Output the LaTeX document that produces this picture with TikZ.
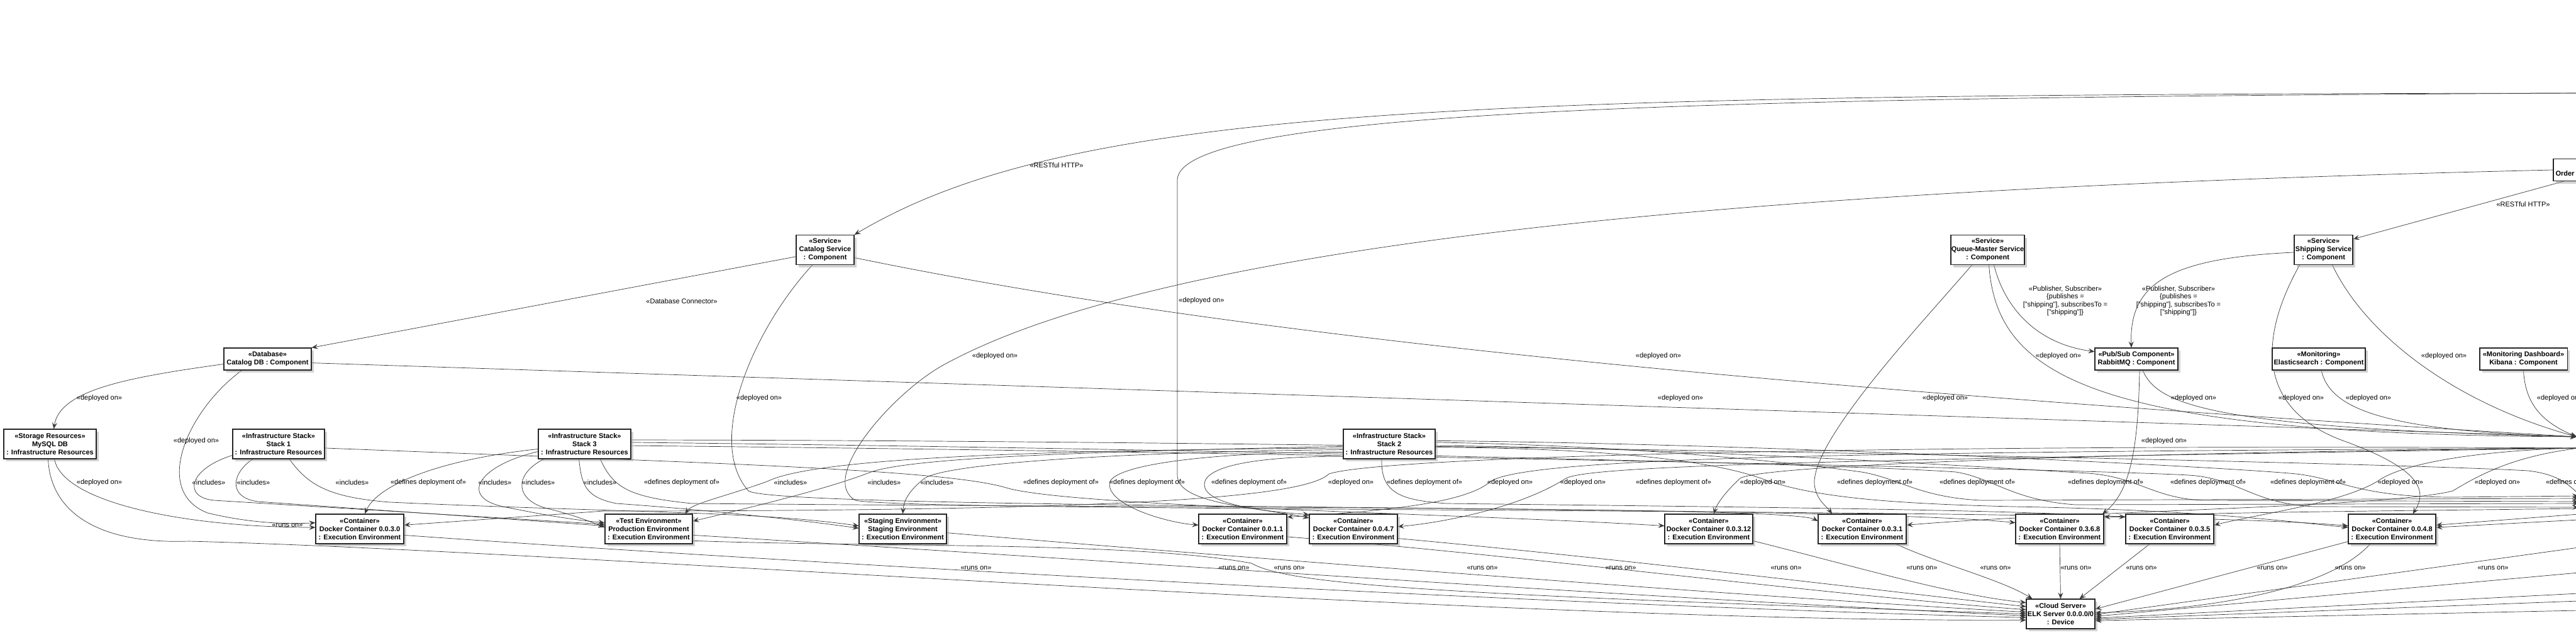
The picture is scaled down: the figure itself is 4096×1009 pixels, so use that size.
\documentclass[tikz,border=0pt]{standalone}
\usepackage{fontspec}
\setmainfont{Liberation Sans}
\usetikzlibrary{arrows.meta,shadows}
\pgfdeclarelayer{background}
\pgfdeclarelayer{edges}
\pgfsetlayers{background,edges,main}
\tikzset{
  box/.style={draw=black!85, line width=1.1pt, fill=white, align=center, inner sep=0pt,
    font=\fontsize{11}{13}\selectfont\bfseries,
    drop shadow={shadow xshift=4pt, shadow yshift=-4pt, fill=black!35}},
  boxtwo/.style={box, minimum height=35pt},
  boxthree/.style={box, minimum height=47pt},
  cont/.style={boxthree, minimum width=140pt},
  arr/.style={draw=black!78, line width=0.7pt, -{Stealth[length=10pt, width=8pt, inset=4pt]}},
  lbl/.style={font=\fontsize{11}{12.4}\selectfont, inner sep=0pt, align=center},
}
\begin{document}
\begin{tikzpicture}[x=1pt, y=-1pt]
\useasboundingbox (0,0) rectangle (4096,1009);
\begin{pgfonlayer}{background}
\fill[white] (0,0) rectangle (4096,1009);
\end{pgfonlayer}

% ---------------- nodes ----------------
\node[boxthree, minimum width=92pt]  (CatSvc)  at (1312,397)   {«Service»\\Catalog Service\\: Component};
\node[boxthree, minimum width=117pt] (QMSvc)   at (3160.5,397) {«Service»\\Queue-Master Service\\: Component};
\node[boxthree, minimum width=93pt]  (ShipSvc) at (3694.5,397) {«Service»\\Shipping Service\\: Component};
\node[boxtwo, minimum width=151pt]   (Order)   at (4135.5,270) {«Service»\\Order Service : Component};

\node[boxtwo, minimum width=139pt] (CatDB)  at (425.5,570.5) {«Database»\\Catalog DB : Component};
\node[boxtwo, minimum width=132pt] (RMQ)    at (3397,570.5)  {«Pub/Sub Component»\\RabbitMQ : Component};
\node[boxtwo, minimum width=148pt] (ES)     at (3687,570.5)  {«Monitoring»\\Elasticsearch : Component};
\node[boxtwo, minimum width=139pt] (Kibana) at (4012.5,570.5) {«Monitoring Dashboard»\\Kibana : Component};

\node[boxthree, minimum width=147pt] (MySQL)  at (79.5,705.5)  {«Storage Resources»\\MySQL DB\\: Infrastructure Resources};
\node[boxthree, minimum width=146pt] (Stack1) at (443,705.5)   {«Infrastructure Stack»\\Stack 1\\: Infrastructure Resources};
\node[boxthree, minimum width=147pt] (Stack3) at (929.5,705.5) {«Infrastructure Stack»\\Stack 3\\: Infrastructure Resources};
\node[boxthree, minimum width=146pt] (Stack2) at (2209,705.5)  {«Infrastructure Stack»\\Stack 2\\: Infrastructure Resources};

\node[cont] (C030)    at (572,840.5)    {«Container»\\Docker Container 0.0.3.0\\: Execution Environment};
\node[cont, minimum width=139pt] (TestEnv) at (1031.5,840.5) {«Test Environment»\\Production Environment\\: Execution Environment};
\node[cont, minimum width=139pt] (Staging) at (1435.5,840.5) {«Staging Environment»\\Staging Environment\\: Execution Environment};
\node[cont] (C011)    at (1976,840.5)   {«Container»\\Docker Container 0.0.1.1\\: Execution Environment};
\node[cont] (C047)    at (2152,840.5)   {«Container»\\Docker Container 0.0.4.7\\: Execution Environment};
\node[cont] (C0312)   at (2717,840.5)   {«Container»\\Docker Container 0.0.3.12\\: Execution Environment};
\node[cont] (C031)    at (2961,840.5)   {«Container»\\Docker Container 0.0.3.1\\: Execution Environment};
\node[cont] (C0368)   at (3275,840.5)   {«Container»\\Docker Container 0.3.6.8\\: Execution Environment};
\node[cont] (C035)    at (3450,840.5)   {«Container»\\Docker Container 0.0.3.5\\: Execution Environment};
\node[cont, minimum width=139pt] (C048) at (3803.5,840.5) {«Container»\\Docker Container 0.0.4.8\\: Execution Environment};

\node[boxthree, minimum width=109pt] (Cloud) at (3276.5,975.5) {«Cloud Server»\\ELK Server 0.0.0.0/0\\: Device};

% off-page ends
\coordinate (offTop)  at (4100,148);
\coordinate (offRin)  at (4097,694);
\coordinate (offRout) at (4100,712);
\coordinate (offD1) at (4100,792);
\coordinate (offD2) at (4100,800);
\coordinate (offD3) at (4100,797);
\coordinate (offD4) at (4100,806);
\coordinate (offD5) at (4100,788);
\coordinate (offD6) at (4110,790);
\coordinate (offS1) at (4100,808);
\coordinate (offS2) at (4100,817);
\coordinate (offS3) at (4100,826);
\coordinate (offRun1) at (4100,870);
\coordinate (offRun2) at (4100,910);
\coordinate (offRun3) at (4100,943);
\coordinate (offRun4) at (4100,955);
\coordinate (offRun5) at (4100,970);

% ---------------- edges ----------------
\begin{pgfonlayer}{edges}
% top
\draw[arr] (offTop) .. controls (2300,150) and (1700,170) .. (CatSvc.north east);
\draw[arr] (offTop) .. controls (2700,155) and (1880,175) .. (1872,285) -- (1872,755) .. controls (1872,800) and (1990,805) .. (C047.166);
\draw[arr] (CatSvc.193) -- (CatDB.north east);
\draw[arr] (CatSvc.-15) .. controls (1800,500) and (2500,600) .. (offRin);
\draw[arr] (CatSvc.-130) .. controls (1200,520) and (1120,700) .. (1190,780) .. controls (1240,812) and (2900,800) .. (C0368.172);
\draw[arr] (Order.west) .. controls (3000,295) and (1900,360) .. (1500,580) .. controls (1420,624) and (1300,760) .. (1360,795) .. controls (1450,815) and (3400,805) .. (C048.176);
\draw[arr] ([xshift=17pt]Order.south west) -- (ShipSvc.20);
% queue master / shipping / rabbit
\draw[arr] ([xshift=10pt]QMSvc.south) .. controls (3185,480) and (3230,545) .. (RMQ.170);
\draw[arr] ([xshift=2pt]QMSvc.south) .. controls (3175,600) and (3330,690) .. (offRin);
\draw[arr] ([xshift=-25pt]QMSvc.south) .. controls (3050,520) and (2880,700) .. (2885,770) .. controls (2888,795) and (2905,805) .. ([xshift=-48pt]C031.north);
\draw[arr] ([yshift=-4pt]ShipSvc.west) .. controls (3450,410) and (3385,450) .. ([xshift=-8pt]RMQ.north);
\draw[arr] ([xshift=14pt]ShipSvc.south) .. controls (3760,530) and (3900,640) .. (offRin);
\draw[arr] ([xshift=-38pt]ShipSvc.south) .. controls (3590,540) and (3590,650) .. (3725,700) .. controls (3850,745) and (3860,780) .. ([xshift=33pt]C048.north);
\draw[arr] ([xshift=5pt]RMQ.south) .. controls (3400,700) and (3390,780) .. ([xshift=68pt]C0368.north);
\draw[arr] ([xshift=10pt]RMQ.south) .. controls (3430,640) and (3500,680) .. (offRin);
\draw[arr] ([xshift=4pt]ES.south) .. controls (3705,650) and (3790,685) .. (offRin);
\draw[arr] (Kibana.south) .. controls (4015,640) and (4040,670) .. (offRin);
% catalog db, mysql
\draw[arr] (CatDB.-5) -- (offRin);
\draw[arr] ([yshift=-8pt]CatDB.west) .. controls (200,600) and (95,620) .. ([xshift=6pt]MySQL.north);
\draw[arr] ([xshift=-41pt]CatDB.south) .. controls (300,650) and (240,780) .. (330,815) .. controls (400,832) and (460,833) .. (C030.172);
\draw[arr] ([xshift=7pt]MySQL.south) .. controls (100,800) and (300,838) .. (C030.178);
\draw[arr] ([xshift=-3pt]MySQL.south) .. controls (80,810) and (150,865) .. (300,860) .. controls (900,875) and (2400,990) .. (Cloud.190);
% stack 1
\draw[arr] ([yshift=-18pt]Stack1.west) .. controls (300,745) and (290,790) .. (340,795) -- (TestEnv.174);
\draw[arr] ([xshift=-41pt]Stack1.south) .. controls (370,750) and (360,790) .. (410,797) -- (TestEnv.176);
\draw[arr] ([xshift=17pt]Stack1.south) .. controls (490,770) and (520,790) .. (620,798) .. controls (1000,815) and (1200,812) .. (Staging.176);
\draw[arr] (Stack1.-5) .. controls (1100,735) and (1500,745) .. (1600,775) .. controls (1700,805) and (2300,815) .. (C0312.176);
% stack 3
\draw[arr] ([yshift=-8pt]Stack3.west) .. controls (700,730) and (600,770) .. ([xshift=8pt]C030.north);
\draw[arr] ([yshift=-12pt]Stack3.west) .. controls (760,740) and (730,790) .. (800,805) .. controls (850,815) and (900,825) .. (TestEnv.172);
\draw[arr] ([xshift=-65pt]Stack3.south) .. controls (815,755) and (820,795) .. (870,808) .. controls (900,815) and (930,825) .. (TestEnv.178);
\draw[arr] ([xshift=-9pt]Stack3.south) .. controls (925,770) and (930,790) .. (980,800) .. controls (1150,812) and (1300,830) .. (Staging.179);
\draw[arr] ([xshift=25pt]Stack3.south) .. controls (975,775) and (1000,790) .. (1100,800) .. controls (2000,808) and (2850,805) .. (C031.170);
\draw[arr] (Stack3.2) .. controls (1800,712) and (2900,735) .. (3110,750) .. controls (3170,760) and (3200,795) .. (3300,802) -- (offD2);
\draw[arr] (Stack3.-2) .. controls (2000,718) and (3300,745) .. (3480,755) .. controls (3560,760) and (3580,800) .. (3680,805) -- (offD4);
\draw[arr] (Stack3.5) .. controls (2200,700) and (3800,735) .. (4020,748) .. controls (4080,755) and (4090,780) .. (offD6);
% stack 2
\draw[arr] (Stack2.185) .. controls (1700,715) and (1300,725) .. (1220,765) .. controls (1150,790) and (1100,800) .. ([xshift=58pt]TestEnv.north);
\draw[arr] (Stack2.183) .. controls (1700,718) and (1450,728) .. (1385,750) .. controls (1320,775) and (1220,800) .. (TestEnv.10);
\draw[arr] (Stack2.187) .. controls (1800,718) and (1510,735) .. (1470,760) .. controls (1445,780) and (1437,795) .. (Staging.north);
\draw[arr] (Stack2.190) .. controls (1950,718) and (1780,735) .. (1765,765) .. controls (1755,800) and (1850,830) .. (C011.175);
\draw[arr] (Stack2.195) .. controls (2000,725) and (1915,740) .. (1915,770) .. controls (1915,800) and (2000,812) .. (C047.162);
\draw[arr] ([xshift=-12pt]Stack2.south) .. controls (2195,785) and (2230,795) .. (2300,800) .. controls (2800,806) and (3200,810) .. (C035.165);
\draw[arr] (Stack2.-4) .. controls (2500,712) and (2700,725) .. (2800,760) .. controls (2880,790) and (3000,800) .. (3200,805) .. controls (3500,810) and (3650,830) .. (C048.178);
\draw[arr] (Stack2.2) .. controls (2600,708) and (2850,735) .. (2960,750) .. controls (3020,760) and (3050,790) .. (3150,795) -- (offD1);
\draw[arr] (Stack2.-2) .. controls (2700,712) and (3200,745) .. (3320,752) .. controls (3400,758) and (3420,790) .. (3500,795) -- (offD3);
\draw[arr] (Stack2.4) .. controls (2800,705) and (3500,740) .. (3640,752) .. controls (3720,758) and (3740,790) .. (3900,790) -- (offD5);
% deployed on (from the right)
\draw[arr] (offRout) .. controls (3000,705) and (2200,725) .. (2113,753) .. controls (2075,790) and (1800,812) .. (960,812) -- (C030.5);
\draw[arr] (offRout) .. controls (3000,718) and (2430,725) .. (2370,765) .. controls (2330,800) and (2200,812) .. (C011.15);
\draw[arr] (offRout) .. controls (3000,730) and (2530,738) .. (2490,760) .. controls (2420,805) and (2300,830) .. (C047.3);
\draw[arr] (offRout) .. controls (3300,720) and (2800,740) .. (2767,760) .. controls (2745,780) and (2730,800) .. ([xshift=8pt]C0312.north);
\draw[arr] (offRout) .. controls (3950,715) and (3820,735) .. (3780,765) .. controls (3720,800) and (3600,815) .. (C035.5);
\draw[arr] (offRout) .. controls (4000,725) and (3950,750) .. (3900,780) .. controls (3800,806) and (3300,812) .. (C031.5);
\draw[arr] (offS1) .. controls (3800,812) and (3500,814) .. (C0368.15);
\draw[arr] (offS2) -- (C048.5);
\draw[arr] (offS3) -- (C048.2);
% runs on
\draw[arr] (C030.-8) .. controls (1200,890) and (2400,960) .. (Cloud.186);
\draw[arr] (TestEnv.-8) .. controls (1600,880) and (2600,950) .. (Cloud.183);
\draw[arr] (TestEnv.-15) .. controls (1400,870) and (1800,860) .. (1990,895) .. controls (2050,930) and (2300,945) .. (Cloud.180);
\draw[arr] (Staging.-5) .. controls (1900,880) and (2800,950) .. (Cloud.177);
\draw[arr] (C011.-10) .. controls (2400,880) and (2900,945) .. (Cloud.173);
\draw[arr] (C047.-12) .. controls (2600,890) and (3000,940) .. (Cloud.168);
\draw[arr] (C0312.-15) .. controls (2950,900) and (3100,945) .. (Cloud.162);
\draw[arr] ([xshift=54pt]C031.south) .. controls (3080,895) and (3180,920) .. ([xshift=-45pt]Cloud.north);
\draw[arr] (C0368.south) -- (Cloud.north);
\draw[arr] ([xshift=-32pt]C035.south) -- ([xshift=30pt]Cloud.north);
\draw[arr] ([yshift=-20pt]C048.west) -- (Cloud.8);
\draw[arr] ([xshift=-35pt]C048.south) .. controls (3700,940) and (3500,970) .. (Cloud.2);
\draw[arr] (offRun1) -- (Cloud.-1);
\draw[arr] (offRun2) -- (Cloud.-4);
\draw[arr] (offRun3) -- (Cloud.-7);
\draw[arr] (offRun4) -- (Cloud.-9);
\draw[arr] (offRun5) -- (Cloud.-11);
\end{pgfonlayer}

% ---------------- labels ----------------
\node[lbl] (L01) at (1680,263) {«RESTful HTTP»};
\node[lbl] (L02) at (4012,325) {«RESTful HTTP»};
\node[lbl] (L03) at (1084,479) {«Database Connector»};
\node[lbl, anchor=west] (L04) at (1874,478) {«deployed on»};
\node[lbl] (L05) at (3284,478) {«Publisher, Subscriber»\\\{publishes =\\{[}"shipping"{]}, subscribesTo =\\{[}"shipping"{]}\}};
\node[lbl] (L06) at (3464,478) {«Publisher, Subscriber»\\\{publishes =\\{[}"shipping"{]}, subscribesTo =\\{[}"shipping"{]}\}};
\node[lbl] (L07) at (1582,566) {«deployed on»};
\node[lbl] (L08) at (2637,566) {«deployed on»};
\node[lbl] (L09) at (3273,566) {«deployed on»};
\node[lbl] (L10) at (3886,566) {«deployed on»};
\node[lbl] (L11) at (158,633)  {«deployed on»};
\node[lbl] (L12) at (1207,633) {«deployed on»};
\node[lbl] (L13) at (2672,633) {«deployed on»};
\node[lbl] (L14) at (3093,633) {«deployed on»};
\node[lbl] (L15) at (3488,633) {«deployed on»};
\node[lbl] (L16) at (3659,633) {«deployed on»};
\node[lbl] (L17) at (3766,633) {«deployed on»};
\node[lbl] (L18) at (4070,633) {«deployed on»};
\node[lbl] (L19) at (312,701)  {«deployed on»};
\node[lbl] (L20) at (3441,701) {«deployed on»};
% row 767
\node[lbl] (L21) at (158,767)  {«deployed on»};
\node[lbl] (L22) at (2148,767) {«deployed on»};
\node[lbl] (L23) at (2401,767) {«deployed on»};
\node[lbl] (L24) at (2517,767) {«deployed on»};
\node[lbl] (L25) at (2803,767) {«deployed on»};
\node[lbl] (L26) at (3817,767) {«deployed on»};
\node[lbl] (L27) at (3971,767) {«deployed on»};
\node[lbl] (L28) at (332,767)  {«includes»};
\node[lbl] (L29) at (403,767)  {«includes»};
\node[lbl] (L30) at (560,767)  {«includes»};
\node[lbl] (L31) at (787,767)  {«includes»};
\node[lbl] (L32) at (856,767)  {«includes»};
\node[lbl] (L33) at (954,767)  {«includes»};
\node[lbl] (L34) at (1257,767) {«includes»};
\node[lbl] (L35) at (1406,767) {«includes»};
\node[lbl] (L36) at (1490,767) {«includes»};
\node[lbl] (L37) at (681,767)  {«defines deployment of»};
\node[lbl] (L38) at (1084,767) {«defines deployment of»};
\node[lbl] (L39) at (1687,767) {«defines deployment of»};
\node[lbl] (L40) at (1824,767) {«defines deployment of»};
\node[lbl] (L41) at (1986,767) {«defines deployment of»};
\node[lbl] (L42) at (2265,767) {«defines deployment of»};
\node[lbl] (L43) at (2661,767) {«defines deployment of»};
\node[lbl] (L44) at (2981,767) {«defines deployment of»};
\node[lbl] (L45) at (3144,767) {«defines deployment of»};
\node[lbl] (L46) at (3348,767) {«defines deployment of»};
\node[lbl] (L47) at (3511,767) {«defines deployment of»};
\node[lbl] (L48) at (3670,767) {«defines deployment of»};
\node[lbl] (L49) at (4108,767) {«defines deployment of»};
% runs on
\node[lbl] (L50) at (457,835)  {«runs on»};
\node[lbl] (L51) at (1552,903) {«runs on»};
\node[lbl] (L52) at (1962,903) {«runs on»};
\node[lbl] (L53) at (2050,903) {«runs on»};
\node[lbl] (L54) at (2357,903) {«runs on»};
\node[lbl] (L55) at (2577,903) {«runs on»};
\node[lbl] (L56) at (2840,903) {«runs on»};
\node[lbl] (L57) at (3056,903) {«runs on»};
\node[lbl] (L58) at (3173,903) {«runs on»};
\node[lbl] (L59) at (3301,903) {«runs on»};
\node[lbl] (L60) at (3405,903) {«runs on»};
\node[lbl] (L61) at (3613,903) {«runs on»};
\node[lbl] (L62) at (3737,903) {«runs on»};
\node[lbl] (L63) at (3964,903) {«runs on»};
\end{tikzpicture}
\end{document}
